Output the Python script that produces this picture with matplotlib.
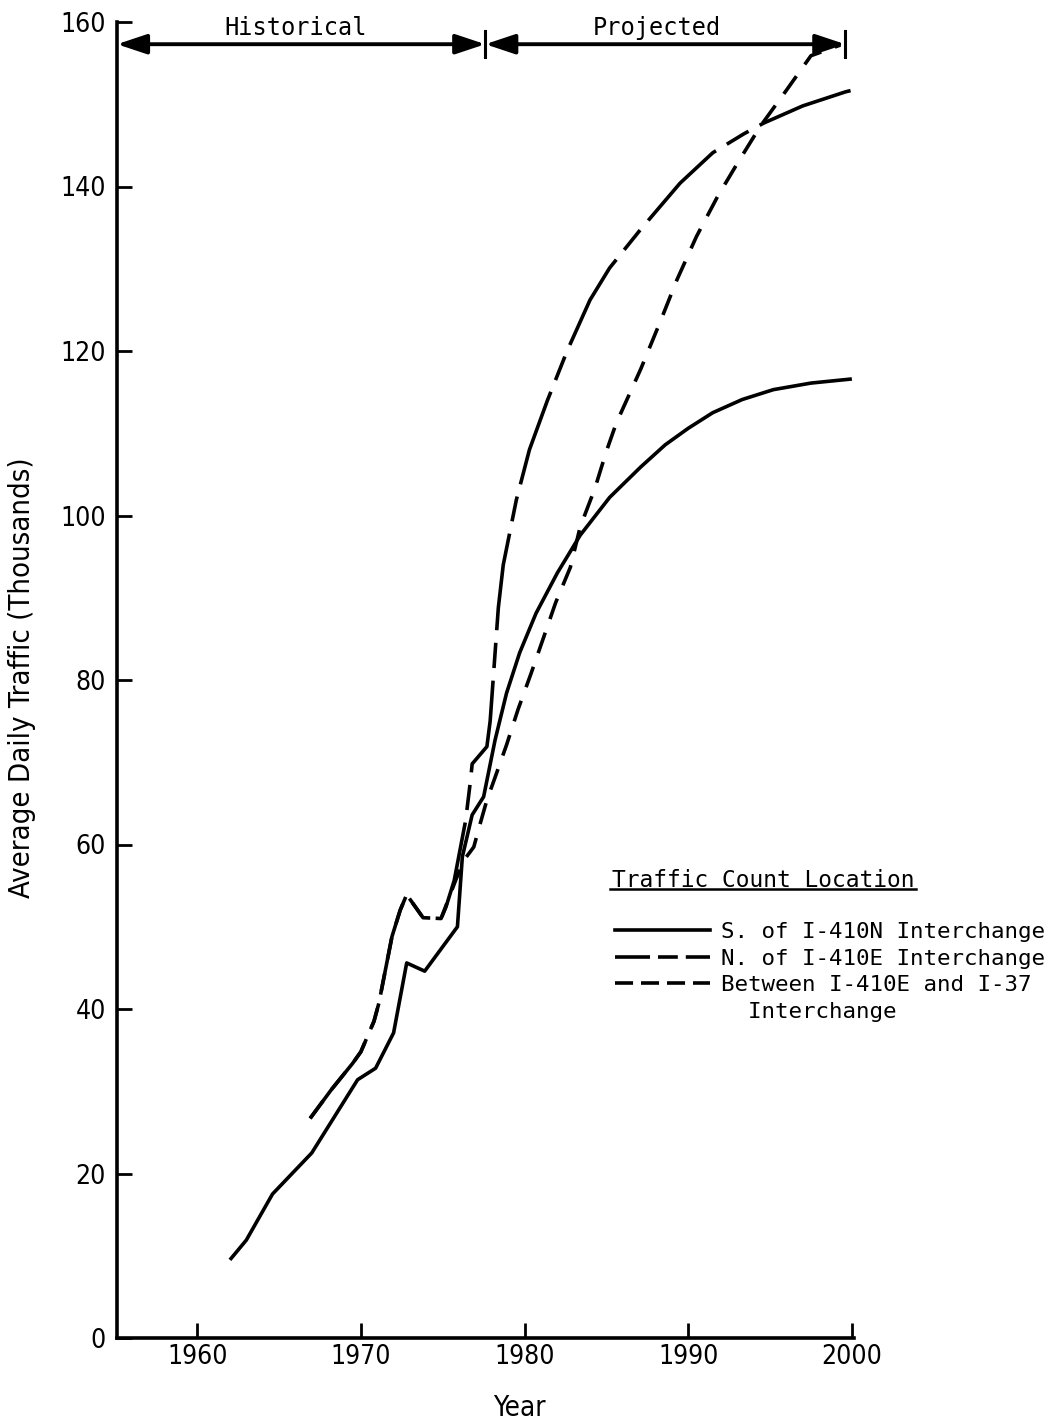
import matplotlib
matplotlib.use("Agg")
import matplotlib.pyplot as plt
from matplotlib import font_manager as fm
from matplotlib.lines import Line2D

# S. of I-410N Interchange (solid)
s410n_year = [1962.0, 1963.0, 1964.6, 1967.0, 1969.8, 1970.9, 1972.0, 1972.8, 1973.9,
              1975.9, 1976.2, 1976.8, 1977.5, 1978.2, 1978.9, 1979.7, 1980.7, 1982.0,
              1983.4, 1985.2, 1987.1, 1988.6, 1990.0, 1991.5, 1993.3, 1995.2, 1997.5, 2000.0]
s410n_adt = [9.5, 11.9, 17.5, 22.5, 31.4, 32.8, 37.1, 45.6, 44.6,
             50.0, 58.5, 63.6, 65.8, 72.7, 78.4, 83.3, 88.1, 93.0,
             97.6, 102.2, 105.9, 108.6, 110.6, 112.5, 114.1, 115.3, 116.1, 116.6]

# N. of I-410E Interchange (long dash)
n410e_year = [1966.9, 1968.2, 1969.5, 1970.0, 1970.8, 1971.1, 1971.9, 1972.4, 1972.8,
              1973.8, 1974.9, 1975.2, 1975.7, 1976.4, 1976.7, 1976.8, 1977.7, 1977.9,
              1978.4, 1978.7, 1979.5, 1980.3, 1981.4, 1982.6, 1984.0, 1985.2, 1987.1,
              1989.5, 1991.5, 1993.4, 1994.6, 1997.0, 1999.6, 2000.0]
n410e_adt = [26.7, 30.2, 33.4, 34.8, 38.5, 40.7, 48.8, 52.0, 53.9,
             51.1, 51.0, 52.4, 55.6, 62.9, 67.8, 69.8, 71.9, 75.0,
             88.8, 94.0, 101.9, 108.0, 114.0, 120.0, 126.2, 130.1, 134.8,
             140.4, 144.1, 146.4, 147.7, 149.8, 151.5, 151.7]

# Between I-410E and I-37 Interchange (short dash)
btw_year = [1966.9, 1968.2, 1969.5, 1970.0, 1970.8, 1971.1, 1971.9, 1972.4, 1972.8,
            1973.8, 1974.9, 1975.8, 1976.3, 1976.9, 1977.3, 1977.7, 1978.1, 1978.9,
            1979.6, 1980.4, 1981.1, 1981.9, 1982.8, 1983.4, 1984.3, 1985.0, 1985.6,
            1987.1, 1988.3, 1989.3, 1990.5, 1991.8, 1993.0, 1994.4, 1996.0, 1997.5, 1999.3]
btw_adt = [26.7, 30.2, 33.4, 34.8, 38.5, 40.7, 48.8, 52.0, 53.9,
           51.1, 51.0, 55.7, 58.1, 59.7, 62.6, 65.4, 67.6, 72.1,
           76.4, 80.8, 84.8, 89.4, 93.7, 98.6, 103.3, 107.8, 111.2,
           117.8, 123.6, 128.6, 133.9, 138.8, 142.8, 147.3, 151.7, 155.9, 157.2]

legend_labels = ["S. of I-410N Interchange", "N. of I-410E Interchange",
                 "Between I-410E and I-37", "  Interchange"]
period_names = ["Historical", "Projected"]
period_bounds = [1955.1, 1977.6, 1999.6]
period_label_x = [1966.0, 1988.1]
x_ticks = [1960, 1970, 1980, 1990, 2000]
y_ticks = [0, 20, 40, 60, 80, 100, 120, 140, 160]

# pick a narrow sans if one is installed (the original uses a condensed face)
narrow_family, narrow_stretch = "DejaVu Sans", "normal"
for f in fm.fontManager.ttflist:
    if f.style != "normal" or f.weight not in (400, "normal", "regular", "book"):
        continue
    if f.stretch in ("condensed", "semi-condensed") or "Narrow" in f.name or "Condensed" in f.name:
        narrow_family, narrow_stretch = f.name, f.stretch
        break
narrow = dict(family=narrow_family, stretch=narrow_stretch)
mono = "DejaVu Sans Mono"
LW = 2.6

fig = plt.figure(figsize=(10.52, 14.22), dpi=100)
ax = fig.add_axes([117/1052, 84/1422, 736.5/1052, 1316/1422])

ax.plot(s410n_year, s410n_adt, color="black", lw=LW, solid_capstyle="butt")
ax.plot(n410e_year, n410e_adt, color="black", lw=LW, ls=(0, (27, 3.5, 7, 3.5)))
ax.plot(btw_year, btw_adt, color="black", lw=LW, ls=(0, (6, 4)))

ax.set_xlim(1955.1, 2000.1)
ax.set_ylim(0, 160)
for s in ["top", "right"]:
    ax.spines[s].set_visible(False)
for s in ["left", "bottom"]:
    ax.spines[s].set_linewidth(2.6)
ax.set_xticks(x_ticks)
ax.set_yticks(y_ticks)
ax.tick_params(direction="in", length=11, width=2, labelsize=19)
ax.tick_params(axis="x", pad=4)
ax.tick_params(axis="y", pad=8)
for lab in ax.get_xticklabels() + ax.get_yticklabels():
    lab.set_family(narrow["family"])
    lab.set_stretch(narrow["stretch"])

ax.set_xlabel("Year", fontsize=20, va="center", **narrow)
ax.xaxis.set_label_coords(0.546, -0.053)
ax.set_ylabel("Average Daily Traffic (Thousands)", fontsize=21, va="center", **narrow)
ax.yaxis.set_label_coords(-0.129, 0.502)

# period arrows across the top
arrow_y = 157.3
arrow_style = "<|-|>,head_length=0.6,head_width=0.2"
for i, name in enumerate(period_names):
    x0, x1 = period_bounds[i], period_bounds[i + 1]
    ax.annotate("", xy=(x1, arrow_y), xytext=(x0, arrow_y),
                arrowprops=dict(arrowstyle=arrow_style, lw=2.8, color="black",
                                mutation_scale=30, shrinkA=0, shrinkB=0),
                annotation_clip=False)
    ax.text(period_label_x[i], arrow_y + 2.0, name, family=mono,
            fontsize=17, ha="center", va="center", clip_on=False)
for b in period_bounds[1:]:
    ax.plot([b, b], [arrow_y - 1.6, arrow_y + 1.6], color="black", lw=2.2, clip_on=False)

# legend
handles = [Line2D([], [], color="black", lw=LW),
           Line2D([], [], color="black", lw=LW, ls=(0, (9.7, 2.2, 5.5, 2.2))),
           Line2D([], [], color="black", lw=LW, ls=(0, (5, 2.2))),
           Line2D([], [], ls="none")]
ax.legend(handles, legend_labels, loc="upper left", bbox_to_anchor=(0.676, 0.316),
          frameon=False, borderpad=0, borderaxespad=0, handlelength=4.25,
          handletextpad=0.45, labelspacing=0.29, prop=dict(family=mono, size=16.2))

title = ax.text(0.672, 0.348, "Traffic Count Location", transform=ax.transAxes,
                family=mono, fontsize=16.5, ha="left", va="center")
fig.canvas.draw()
bb = title.get_window_extent().transformed(ax.transAxes.inverted())
ax.plot([bb.x0 - 0.003, bb.x1 + 0.002], [bb.y0 + 0.002, bb.y0 + 0.002], color="black",
        lw=1.8, transform=ax.transAxes, clip_on=False)

fig.savefig("out.png", dpi=100)
